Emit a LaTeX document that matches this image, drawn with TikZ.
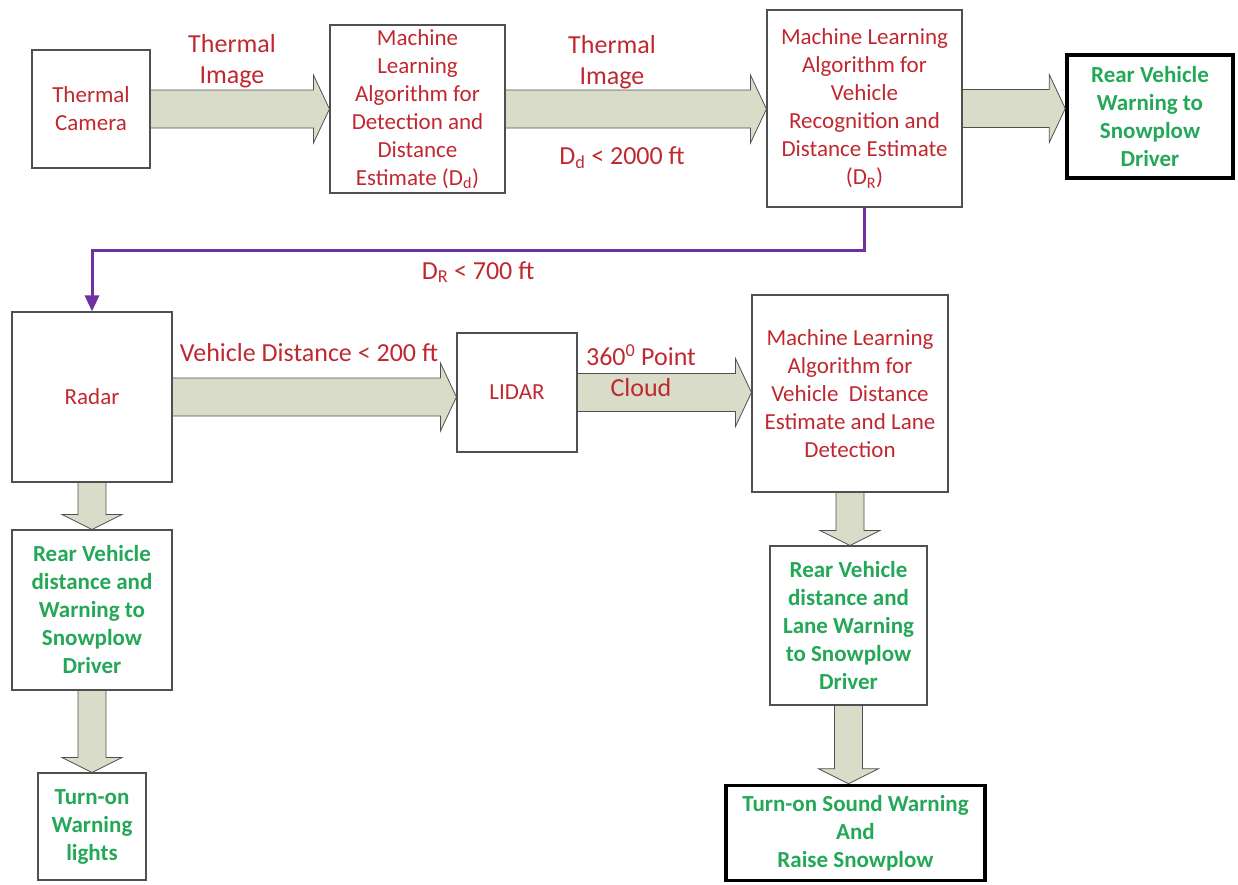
\documentclass[tikz,border=0pt]{standalone}
\usepackage{fontspec}
\setmainfont{Carlito}
\usepackage{tikz}
\usetikzlibrary{calc,arrows.meta,positioning}
\definecolor{txtred}{RGB}{192,40,48}
\definecolor{txtgreen}{RGB}{36,168,88}
\definecolor{arrowfill}{RGB}{216,220,200}
\definecolor{arrowline}{RGB}{80,80,80}
\definecolor{linkpurple}{RGB}{112,48,160}
\tikzset{
  box/.style={draw=arrowline,line width=1.1pt,align=center,inner sep=2pt,
    text=txtred,font=\fontsize{23}{28}\selectfont},
  goalbox/.style={box,text=txtgreen,font=\fontsize{23}{28}\selectfont\bfseries},
  finalbox/.style={goalbox,draw=black,line width=3.5pt},
  lbl/.style={align=center,text=txtred,font=\fontsize{26}{31}\selectfont},
  fatarrow/.style={draw=arrowline,fill=arrowfill,line width=0.8pt,line join=miter},
  link/.style={linkpurple,line width=3pt,-{Triangle[length=16pt,width=14pt]}}
}
% horizontal block arrow from east of #1 to west of #2
\newcommand\fatarrowH[2]{%
  \draw[fatarrow] let \p1=(#1.east), \p2=(#2.west) in
    (\x1+0.6pt,\y1+19pt) -- (\x2-16pt,\y1+19pt) -- (\x2-16pt,\y1+34pt)
    -- (\x2,\y1) -- (\x2-16pt,\y1-34pt) -- (\x2-16pt,\y1-19pt)
    -- (\x1+0.6pt,\y1-19pt);}
% vertical block arrow from south of #1 to north of #2
\newcommand\fatarrowV[2]{%
  \draw[fatarrow] let \p1=(#1.south), \p2=(#2.north) in
    (\x1-14pt,\y1-0.6pt) -- (\x1-14pt,\y2+15pt) -- (\x1-30pt,\y2+15pt)
    -- (\x1,\y2) -- (\x1+30pt,\y2+15pt) -- (\x1+14pt,\y2+15pt)
    -- (\x1+14pt,\y1-0.6pt);}
\begin{document}
\begin{tikzpicture}[x=1pt,y=-1pt]
  \useasboundingbox (0,0) rectangle (1238,884);
  % top row
  \node[box,minimum width=118pt,minimum height=118pt] (cam) at (91,109)
    {Thermal\\Camera};
  \node[box,minimum width=175pt,minimum height=168pt] (mlDetect) at (417.5,109)
    {Machine\\Learning\\Algorithm for\\Detection and\\Distance\\Estimate (D\textsubscript{d})};
  \node[box,minimum width=195pt,minimum height=197pt] (mlRecog) at (864.5,108.5)
    {Machine Learning\\Algorithm for\\Vehicle\\Recognition and\\Distance Estimate\\(D\textsubscript{R})};
  \node[finalbox,minimum width=166pt,minimum height=123pt] (warnRear) at (1150,116.5)
    {Rear Vehicle\\Warning to\\Snowplow\\Driver};
  % middle row
  \node[box,minimum width=160pt,minimum height=170pt] (radar) at (92,397) {Radar};
  \node[box,minimum width=120pt,minimum height=119pt] (lidar) at (517,392.5) {LIDAR};
  \node[box,minimum width=196pt,minimum height=197pt] (mlLane) at (850,393.5)
    {Machine Learning\\Algorithm for\\Vehicle\ \ Distance\\Estimate and Lane\\Detection};
  % bottom rows
  \node[goalbox,minimum width=160pt,minimum height=160pt] (warnRadar) at (92,610)
    {Rear Vehicle\\distance and\\Warning to\\Snowplow\\Driver};
  \node[goalbox,minimum width=108pt,minimum height=107pt] (lights) at (92,826.5)
    {Turn-on\\Warning\\lights};
  \node[goalbox,minimum width=157pt,minimum height=159pt] (warnLane) at (848.5,625.5)
    {Rear Vehicle\\distance and\\Lane Warning\\to Snowplow\\Driver};
  \node[finalbox,minimum width=259pt,minimum height=95pt] (raise) at (855.5,833)
    {Turn-on Sound Warning\\And\\Raise Snowplow};
  % block arrows
  \fatarrowH{cam}{mlDetect}
  \fatarrowH{mlDetect}{mlRecog}
  \fatarrowH{mlRecog}{warnRear}
  \fatarrowH{radar}{lidar}
  \fatarrowH{lidar}{mlLane}
  \fatarrowV{radar}{warnRadar}
  \fatarrowV{warnRadar}{lights}
  \fatarrowV{mlLane}{warnLane}
  \fatarrowV{warnLane}{raise}
  % range hand-over
  \draw[link] (mlRecog.south) -- (mlRecog.south |- 0,250) -| (radar.north);
  % labels
  \node[lbl] (lblImgA) at (232,61) {Thermal\\Image};
  \node[lbl] (lblImgB) at (612,62) {Thermal\\Image};
  \node[lbl] (lblDd) at (622,158) {D\textsubscript{d} < 2000 ft};
  \node[lbl] (lblDR) at (478,272) {D\textsubscript{R} < 700 ft};
  \node[lbl] (lblVD) at (309,353) {Vehicle Distance < 200 ft};
  \node[lbl] (lblPC) at (641,371) {360\textsuperscript{0} Point\\Cloud};
\end{tikzpicture}
\end{document}
